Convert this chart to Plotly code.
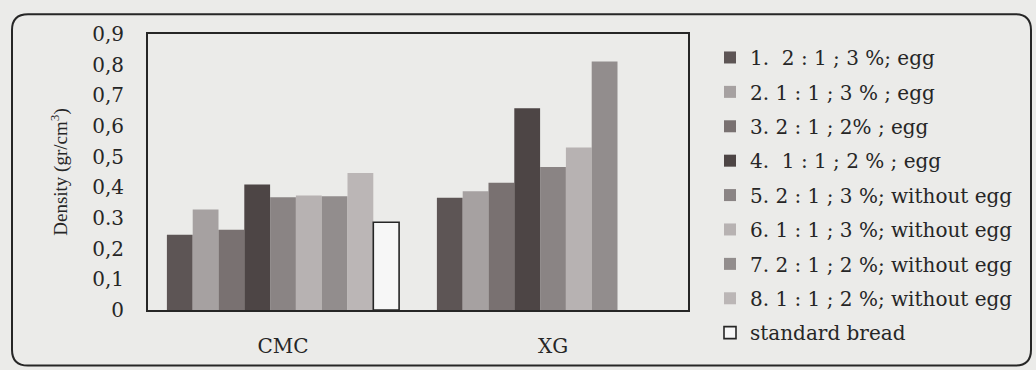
import plotly.graph_objects as go

# Bread density by hydrocolloid type and formulation
categories = ["CMC", "XG"]
series_names = [
    "1.  2 : 1 ; 3 %; egg",
    "2. 1 : 1 ; 3 % ; egg",
    "3. 2 : 1 ; 2% ; egg",
    "4.  1 : 1 ; 2 % ; egg",
    "5. 2 : 1 ; 3 %; without egg",
    "6. 1 : 1 ; 3 %; without egg",
    "7. 2 : 1 ; 2 %; without egg",
    "8. 1 : 1 ; 2 %; without egg",
    "standard bread",
]
cmc_values = [0.245, 0.328, 0.262, 0.409, 0.368, 0.373, 0.371, 0.447, 0.286]
xg_values = [0.366, 0.387, 0.415, 0.658, 0.466, 0.530, 0.810, None, None]
bar_colors = ["#5d5555", "#a6a1a1", "#797171", "#4d4545", "#8a8484",
              "#b7b2b2", "#928d8d", "#bbb6b6", "#f7f7f7"]
y_ticks = [0, 0.1, 0.2, 0.3, 0.4, 0.5, 0.6, 0.7, 0.8, 0.9]
y_tick_text = ["0", "0,1", "0,2", "0.3", "0,4", "0,5", "0,6", "0,7", "0,8", "0,9"]

W, H = 1036, 370
L, R, T, B = 148, 348, 34, 58
PW, PH = W - L - R, H - T - B
SERIF = "DejaVu Serif, serif"
NARROW_SERIF = "Liberation Serif, Times New Roman, serif"
INK = "#262626"


def px(x):
    return (x - L) / PW


def py(y):
    return (H - B - y) / PH


fig = go.Figure()
for i, name in enumerate(series_names):
    is_std = i == len(series_names) - 1
    fig.add_trace(go.Bar(
        x=categories,
        y=[cmc_values[i], xg_values[i]],
        name=name,
        legendgroup=f"g{i}",
        marker=dict(
            color=bar_colors[i],
            line=dict(color=INK if is_std else bar_colors[i],
                      width=1.6 if is_std else 0),
        ),
    ))

# rounded frame around the whole figure
x0, x1, y0, y1, r = px(12), px(1031), py(14), py(368), 16
rx, ry = r / PW, r / PH
frame = (f"M {x0},{y0 - ry} L {x0},{y1 + ry} Q {x0},{y1} {x0 + rx},{y1} "
         f"L {x1 - rx},{y1} Q {x1},{y1} {x1},{y1 + ry} "
         f"L {x1},{y0 - ry} Q {x1},{y0} {x1 - rx},{y0} "
         f"L {x0 + rx},{y0} Q {x0},{y0} {x0},{y0 - ry} Z")
fig.add_shape(type="path", xref="paper", yref="paper", path=frame,
              line=dict(color=INK, width=2), layer="below")

fig.update_layout(
    width=W, height=H,
    margin=dict(l=L, r=R, t=T, b=B),
    paper_bgcolor="#ebebe9",
    plot_bgcolor="#ebebe9",
    barmode="group",
    bargap=0.14,
    bargroupgap=0,
    font=dict(family=SERIF, size=19, color=INK),
    showlegend=True,
    legend=dict(
        x=px(710), xanchor="left",
        y=py(38), yanchor="top",
        bgcolor="rgba(0,0,0,0)",
        font=dict(family=SERIF, size=20, color=INK),
        tracegroupgap=5.4,
        itemwidth=30,
        maxheight=400,
        itemclick=False,
    ),
    xaxis=dict(
        showline=True, linecolor=INK, linewidth=2, mirror=True,
        showgrid=False, ticks="", ticklabelstandoff=17,
        tickfont=dict(family=SERIF, size=20, color=INK),
    ),
    yaxis=dict(
        range=[0, 0.9],
        tickvals=y_ticks, ticktext=y_tick_text,
        showline=True, linecolor=INK, linewidth=2, mirror=True,
        showgrid=False, zeroline=False, ticks="", ticklabelstandoff=18,
        tickfont=dict(family=SERIF, size=20, color=INK),
        title=dict(text="Density (gr/cm<sup>3</sup>)", standoff=20,
                   font=dict(family=NARROW_SERIF, size=19, color=INK)),
    ),
)

fig.write_html("out.html")
